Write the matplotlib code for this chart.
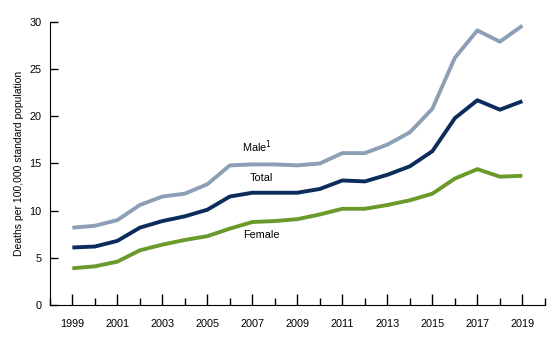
import matplotlib
matplotlib.use("Agg")
import matplotlib.pyplot as plt
from matplotlib.ticker import MultipleLocator

years = list(range(1999, 2020))
total = [6.1, 6.2, 6.8, 8.2, 8.9, 9.4, 10.1, 11.5, 11.9, 11.9, 11.9,
         12.3, 13.2, 13.1, 13.8, 14.7, 16.3, 19.8, 21.7, 20.7, 21.6]
male = [8.2, 8.4, 9.0, 10.6, 11.5, 11.8, 12.8, 14.8, 14.9, 14.9, 14.8,
        15.0, 16.1, 16.1, 17.0, 18.3, 20.8, 26.2, 29.1, 27.9, 29.6]
female = [3.9, 4.1, 4.6, 5.8, 6.4, 6.9, 7.3, 8.1, 8.8, 8.9, 9.1,
          9.6, 10.2, 10.2, 10.6, 11.1, 11.8, 13.4, 14.4, 13.6, 13.7]

plt.rcParams['font.family'] = ['Liberation Sans', 'DejaVu Sans']

fig = plt.figure(figsize=(5.6, 3.42), dpi=100)
ax = fig.add_axes([0.089, 0.108, 0.884, 0.828])

ax.plot(years, male, color='#8d9fb4', lw=2.8, solid_capstyle='butt')
ax.plot(years, total, color='#0c2d5c', lw=2.8, solid_capstyle='butt')
ax.plot(years, female, color='#6b9a2a', lw=2.8, solid_capstyle='butt')

ax.text(2007.2, 16.8, 'Male$^1$', fontsize=7.8, ha='center', va='center')
ax.text(2007.4, 13.5, 'Total', fontsize=7.8, ha='center', va='center')
ax.text(2007.4, 7.4, 'Female', fontsize=7.8, ha='center', va='center')

ax.set_xlim(1998, 2020)
ax.set_ylim(0, 30)
ax.set_xticks(years[::2])
ax.xaxis.set_minor_locator(MultipleLocator(1))
ax.yaxis.set_major_locator(MultipleLocator(5))
ax.tick_params(axis='x', which='major', direction='in', length=8, width=1,
               labelsize=7.8, pad=10)
ax.tick_params(axis='x', which='minor', direction='in', length=5, width=1)
ax.tick_params(axis='y', which='major', direction='in', length=6, width=1,
               labelsize=7.8, pad=6)
ax.spines['top'].set_visible(False)
ax.spines['right'].set_visible(False)
ax.set_ylabel('Deaths per 100,000 standard population', fontsize=7.5, labelpad=4)

fig.savefig('out.png', dpi=100)
